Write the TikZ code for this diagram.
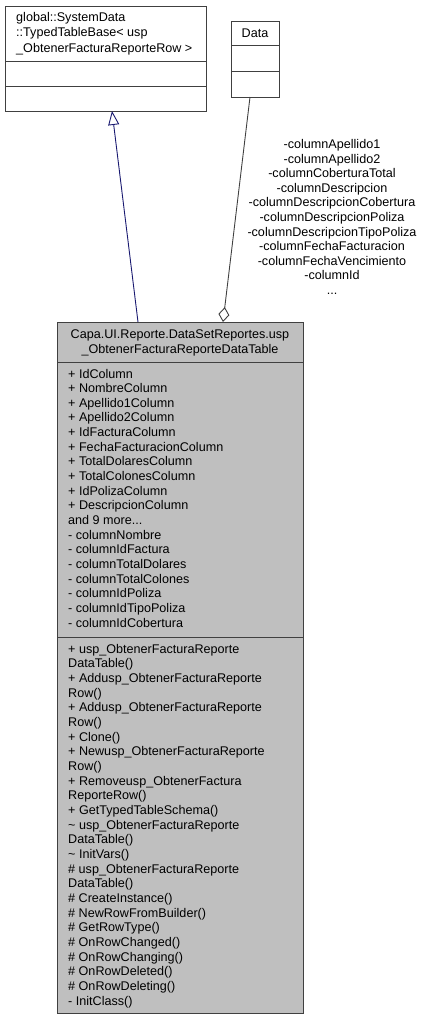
\documentclass[tikz,border=0pt]{standalone}
\usepackage{fontspec}
\setmainfont{Liberation Sans}
\usetikzlibrary{arrows.meta}
\definecolor{edgegray}{HTML}{404040}
\definecolor{boxfill}{HTML}{BFBFBF}
\definecolor{inhblue}{HTML}{191970}
\newcommand{\mydots}{...}
\tikzset{
  classbox/.style={draw=edgegray, line width=1pt, anchor=north west, inner sep=0pt},
  txt/.style={inner sep=0pt, font=\fontsize{12.6}{14.65}\selectfont},
  ltxt/.style={txt, anchor=base west},
  ctxt/.style={txt, anchor=base},
  sepline/.style={draw=edgegray, line width=1pt},
  inherit/.style={draw=inhblue, line width=0.9pt, -{Triangle[open, length=14pt, width=11pt, line width=0.9pt]}},
  aggreg/.style={draw=edgegray, line width=0.9pt, {Diamond[open, length=15pt, width=11pt, line width=0.9pt]}-},
}
\begin{document}
\begin{tikzpicture}[x=1pt, y=-1pt]
\useasboundingbox (0,0) rectangle (423,1020);
% base class
\node[classbox, fill=white, minimum width=201pt, minimum height=105pt] (base) at (5,6) {};
\draw[sepline] (5,61) -- (206,61);
\draw[sepline] (5,86) -- (206,86);
\node[ltxt] (b1) at (16,21) {global::SystemData};
\node[ltxt] (b2) at (16,36.5) {::TypedTableBase< usp};
\node[ltxt] (b3) at (16,52) {\_ObtenerFacturaReporteRow >};
% Data class
\node[classbox, fill=white, minimum width=48pt, minimum height=76pt] (data) at (231,21) {};
\draw[sepline] (231,45) -- (279,45);
\draw[sepline] (231,71) -- (279,71);
\node[ctxt] (d1) at (255,37) {Data};
% main class
\node[classbox, fill=boxfill, minimum width=246pt, minimum height=691pt] (main) at (57,322) {};
\draw[sepline] (57,362) -- (303,362);
\draw[sepline] (57,637) -- (303,637);
\node[ctxt] (t1) at (180,338) {Capa.UI.Reporte.DataSetReportes.usp};
\node[ctxt] (t2) at (180,353) {\_ObtenerFacturaReporteDataTable};
\foreach \s [count=\i from 0] in {
  {+ IdColumn}, {+ NombreColumn}, {+ Apellido1Column}, {+ Apellido2Column},
  {+ IdFacturaColumn}, {+ FechaFacturacionColumn}, {+ TotalDolaresColumn},
  {+ TotalColonesColumn}, {+ IdPolizaColumn}, {+ DescripcionColumn},
  {and 9 more\mydots}, {- columnNombre}, {- columnIdFactura}, {- columnTotalDolares},
  {- columnTotalColones}, {- columnIdPoliza}, {- columnIdTipoPoliza},
  {- columnIdCobertura}}
  \node[ltxt] (a\i) at (68,378+14.65*\i) {\s};
\foreach \s [count=\i from 0] in {
  {+ usp\_ObtenerFacturaReporte}, {DataTable()}, {+ Addusp\_ObtenerFacturaReporte},
  {Row()}, {+ Addusp\_ObtenerFacturaReporte}, {Row()}, {+ Clone()},
  {+ Newusp\_ObtenerFacturaReporte}, {Row()}, {+ Removeusp\_ObtenerFactura},
  {ReporteRow()}, {+ GetTypedTableSchema()}, {\textasciitilde{} usp\_ObtenerFacturaReporte},
  {DataTable()}, {\textasciitilde{} InitVars()}, {\# usp\_ObtenerFacturaReporte},
  {DataTable()}, {\# CreateInstance()}, {\# NewRowFromBuilder()}, {\# GetRowType()},
  {\# OnRowChanged()}, {\# OnRowChanging()}, {\# OnRowDeleted()},
  {\# OnRowDeleting()}, {- InitClass()}}
  \node[ltxt] (m\i) at (68,653+14.67*\i) {\s};
% connectors
\coordinate (inhS) at (138,322);
\coordinate (inhE) at (112,111);
\draw[inherit] (inhS) -- (inhE);
\coordinate (aggS) at (223,322);
\coordinate (aggE) at (250,97);
\draw[aggreg] (aggS) -- (aggE);
\foreach \s [count=\i from 0] in {
  {-columnApellido1}, {-columnApellido2}, {-columnCoberturaTotal},
  {-columnDescripcion}, {-columnDescripcionCobertura}, {-columnDescripcionPoliza},
  {-columnDescripcionTipoPoliza}, {-columnFechaFacturacion},
  {-columnFechaVencimiento}, {-columnId}, {\mydots}}
  \node[ctxt] (l\i) at (332,148.5+14.6*\i) {\s};
\end{tikzpicture}
\end{document}
